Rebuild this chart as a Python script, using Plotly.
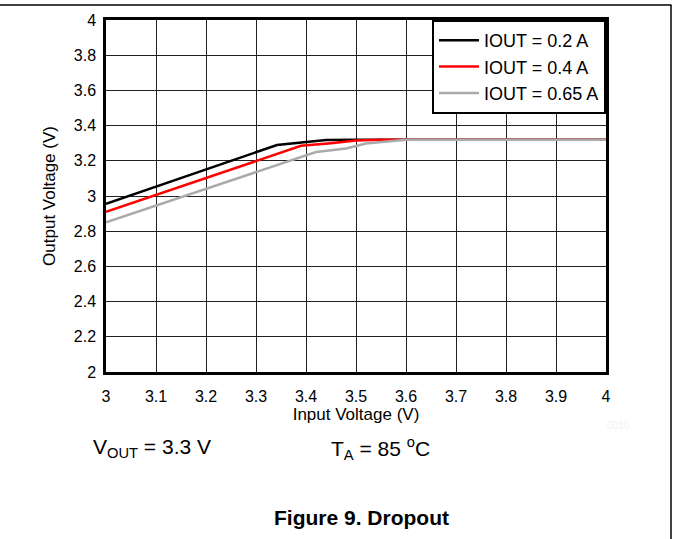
import plotly.graph_objects as go

vin_02 = [3.0, 3.342, 3.44, 3.5, 4.0]
vout_02 = [2.955, 3.29, 3.318, 3.32, 3.32]

vin_04 = [3.0, 3.39, 3.45, 3.5, 3.55, 4.0]
vout_04 = [2.91, 3.285, 3.30, 3.315, 3.32, 3.32]

vin_065 = [3.0, 3.42, 3.48, 3.52, 3.6, 4.0]
vout_065 = [2.85, 3.25, 3.27, 3.298, 3.32, 3.32]

names = ["IOUT = 0.2 A", "IOUT = 0.4 A", "IOUT = 0.65 A"]
colors = ["#000000", "#ff0000", "#aaaaaa"]

x_ticks = [3, 3.1, 3.2, 3.3, 3.4, 3.5, 3.6, 3.7, 3.8, 3.9, 4]
x_labels = ["3", "3.1", "3.2", "3.3", "3.4", "3.5", "3.6", "3.7", "3.8", "3.9", "4"]
y_ticks = [2, 2.2, 2.4, 2.6, 2.8, 3, 3.2, 3.4, 3.6, 3.8, 4]
y_labels = ["2", "2.2", "2.4", "2.6", "2.8", "3", "3.2", "3.4", "3.6", "3.8", "4"]

FONT = "Arial, Liberation Sans, sans-serif"

fig = go.Figure()
for xs, ys, n, c in zip([vin_02, vin_04, vin_065], [vout_02, vout_04, vout_065], names, colors):
    fig.add_trace(go.Scatter(x=xs, y=ys, mode="lines", name=n,
                             line=dict(color=c, width=2.5)))

W, H = 673, 539
L, R, T, B = 106, 67, 20, 167
pw, ph = W - L - R, H - T - B

def px_to_paper_x(px):
    return (px - L) / pw

def px_to_paper_y(py):
    return (H - B - py) / ph

fig.update_layout(
    width=W, height=H,
    margin=dict(l=L, r=R, t=T, b=B),
    paper_bgcolor="white", plot_bgcolor="white",
    font=dict(family=FONT, size=16, color="black"),
    showlegend=True,
    legend=dict(x=1, y=1, xanchor="right", yanchor="top",
                bordercolor="black", borderwidth=2, bgcolor="white",
                font=dict(family=FONT, size=18, color="black"),
                tracegroupgap=0, itemwidth=40),
    xaxis=dict(range=[3, 4], tickvals=x_ticks, ticktext=x_labels,
               showgrid=True, gridcolor="#222222", gridwidth=1,
               showline=True, linecolor="black", linewidth=2.5, mirror=True,
               ticks="", zeroline=False, ticklabelstandoff=8,
               tickfont=dict(family=FONT, size=16),
               title=dict(text="Input Voltage (V)", standoff=2,
                          font=dict(family=FONT, size=17))),
    yaxis=dict(range=[2, 4], tickvals=y_ticks, ticktext=y_labels,
               showgrid=True, gridcolor="#222222", gridwidth=1,
               showline=True, linecolor="black", linewidth=2.5, mirror=True,
               ticks="", zeroline=False, ticklabelstandoff=4,
               tickfont=dict(family=FONT, size=16),
               title=dict(text="Output Voltage (V)", standoff=14,
                          font=dict(family=FONT, size=17))),
    annotations=[
        dict(text="V<sub>OUT</sub> = 3.3 V", xref="paper", yref="paper",
             x=px_to_paper_x(91), y=px_to_paper_y(448), xanchor="left", yanchor="middle",
             showarrow=False, font=dict(family=FONT, size=21)),
        dict(text="T<sub>A</sub> = 85 <sup>o</sup>C", xref="paper", yref="paper",
             x=px_to_paper_x(329), y=px_to_paper_y(448), xanchor="left", yanchor="middle",
             showarrow=False, font=dict(family=FONT, size=21)),
        dict(text="<b>Figure 9. Dropout</b>", xref="paper", yref="paper",
             x=px_to_paper_x(361.5), y=px_to_paper_y(517), xanchor="center", yanchor="middle",
             showarrow=False, font=dict(family=FONT, size=21)),
        dict(text="0010", xref="paper", yref="paper",
             x=px_to_paper_x(618), y=px_to_paper_y(425), xanchor="center", yanchor="middle",
             showarrow=False, font=dict(family=FONT, size=10, color="#f2f2f2")),
    ],
    shapes=[
        dict(type="line", xref="paper", yref="paper",
             x0=px_to_paper_x(0), x1=px_to_paper_x(671.5),
             y0=px_to_paper_y(5), y1=px_to_paper_y(5),
             line=dict(color="black", width=1.5)),
        dict(type="line", xref="paper", yref="paper",
             x0=px_to_paper_x(671), x1=px_to_paper_x(671),
             y0=px_to_paper_y(5), y1=px_to_paper_y(539),
             line=dict(color="black", width=1.5)),
    ],
)

fig.write_html("out.html", config={"displayModeBar": False},
               post_script="document.body.style.margin='0';")
